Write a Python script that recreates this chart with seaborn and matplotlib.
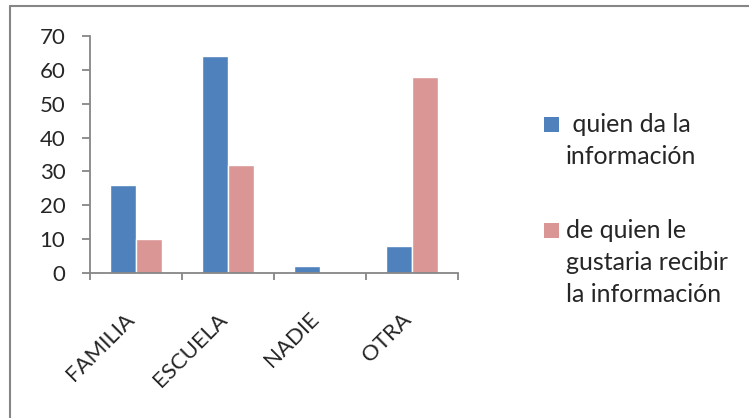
import matplotlib
matplotlib.use("Agg")
import matplotlib.pyplot as plt
from matplotlib.lines import Line2D
from matplotlib.patches import Rectangle
from matplotlib.ticker import FixedLocator
import seaborn as sns
import pandas as pd

categories = ["FAMILIA", "ESCUELA", "NADIE", "OTRA"]
series_names = [" quien da la\ninformación", "de quien le\ngustaria recibir\nla información"]
quien_da = [26, 64, 2, 8]
le_gustaria = [10, 32, 0, 58]
colors = ["#4F81BD", "#D99694"]

rows = []
for cat, a, b in zip(categories, quien_da, le_gustaria):
    rows.append({"cat": cat, "serie": series_names[0], "valor": a})
    rows.append({"cat": cat, "serie": series_names[1], "valor": b})
df = pd.DataFrame(rows)

sns.set_style("white")
plt.rcParams["font.family"] = ["Lato", "DejaVu Sans"]

W, H = 749, 418
fig = plt.figure(figsize=(W / 100, H / 100), dpi=100)
ax = fig.add_axes([90 / W, 1 - 273 / H, 368 / W, 237 / H])

sns.barplot(data=df, x="cat", y="valor", hue="serie", palette=colors,
            width=0.565, saturation=1, ax=ax, legend=False)

ax.set_xlim(-0.5, 3.5)
ax.set_ylim(0, 70)
ax.set_yticks(range(0, 71, 10))
ax.set_xlabel("")
ax.set_ylabel("")

for s in ["top", "right"]:
    ax.spines[s].set_visible(False)
for s in ["left", "bottom"]:
    ax.spines[s].set_color("#868686")
    ax.spines[s].set_linewidth(1.3)

# ticks at category boundaries, labels at centres
ax.xaxis.set_minor_locator(FixedLocator([-0.5, 0.5, 1.5, 2.5, 3.5]))
ax.tick_params(axis="x", which="major", bottom=True, length=0, pad=34, labelsize=16)
ax.tick_params(axis="x", which="minor", bottom=True, length=5, width=1.3, color="#868686", direction="out")
ax.tick_params(axis="y", left=True, length=5.8, width=1.3, color="#868686", direction="out",
               labelsize=16, pad=12)
for lbl in ax.get_xticklabels():
    lbl.set_rotation(45)
    lbl.set_ha("right")
    lbl.set_va("baseline")
    lbl.set_rotation_mode("anchor")

# legend: square key + wrapped label, key aligned with first line
key_tops = [117, 223]
for name, c, top in zip(series_names, colors, key_tops):
    fig.add_artist(Rectangle((544 / W, 1 - (top + 15) / H), 15 / W, 15 / H,
                             transform=fig.transFigure, facecolor=c, edgecolor="none"))
    fig.text(566 / W, 1 - (top - 4) / H, name, fontsize=18, va="top", ha="left",
             linespacing=1.47)

# outer chart border
fig.add_artist(Line2D([10 / W, 1.0], [1 - 6 / H, 1 - 6 / H], color="#868686", lw=1.5))
fig.add_artist(Line2D([10 / W, 10 / W], [0.0, 1 - 6 / H], color="#868686", lw=1.5))

fig.savefig("out.png", dpi=100)
